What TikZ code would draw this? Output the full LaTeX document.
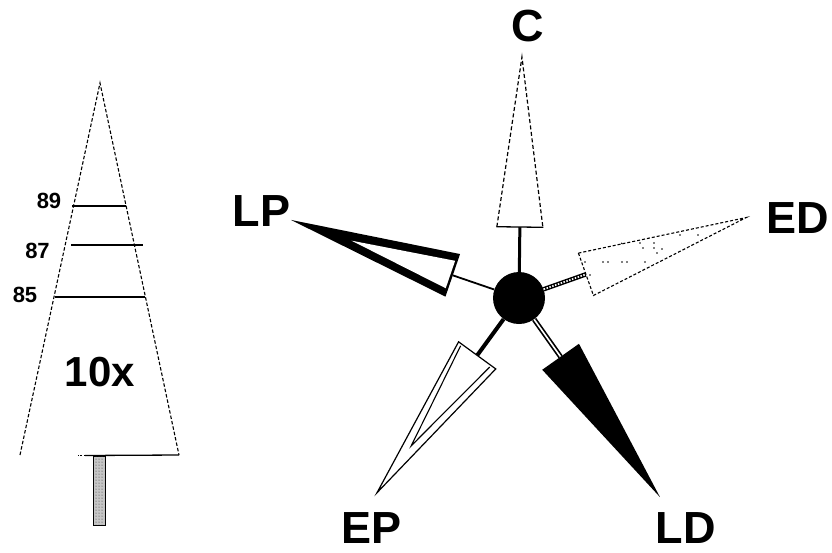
\documentclass[tikz,border=0pt]{standalone}
\usepackage{fontspec}
\setmainfont{Liberation Sans}
\usetikzlibrary{patterns}

\begin{document}
\begin{tikzpicture}[x=1pt,y=1pt,
  armlabel/.style={font=\fontsize{45}{45}\selectfont\bfseries, inner sep=0pt},
  yearlabel/.style={font=\fontsize{22}{22}\selectfont\bfseries, inner sep=0pt},
  treeside/.style={line width=1.1pt, dash pattern=on 3.5pt off 2pt},
  coneedge/.style={line width=1.2pt, dash pattern=on 4pt off 2.5pt},
  fineedge/.style={line width=1.1pt, dash pattern=on 3pt off 2pt},
  yearline/.style={line width=1.5pt},
  hubnode/.style={circle, fill=black, minimum size=52pt, inner sep=0pt},
]
\useasboundingbox (0,0) rectangle (832,-552);

% ---------- the tree ----------
\coordinate (apex) at (100,-83);
\coordinate (tl) at (20,-455);
\coordinate (tr) at (179,-455);
\draw[treeside] (tl) -- (apex) -- (tr);
\draw[line width=1.3pt] (tr) -- (85,-455.5);
\draw[line width=1.3pt, dotted] (85,-455.5) -- (78,-455.5);
\node[draw=black, line width=1pt, fill=gray!45,
      minimum width=12pt, minimum height=69pt, inner sep=0pt] (trunk) at (99,-490.5) {};
\fill[pattern=dots, pattern color=black!80] (93.5,-456.5) rectangle (104.5,-524.5);

\draw[yearline] (72,-206) -- (126,-206);
\draw[yearline] (71,-245) -- (143,-245);
\draw[yearline] (55,-297) -- (145,-297);
\node[yearlabel] (y89) at (49,-200.5) {89};
\node[yearlabel] (y87) at (37.5,-250.5) {87};
\node[yearlabel] (y85) at (25,-295) {85};
\node[font=\fontsize{42}{42}\selectfont\bfseries, inner sep=0pt] (ten) at (100,-372.5) {10x};

% ---------- the star ----------
\node[hubnode] (hub) at (519,-298) {};

% base mid points of the five arms
\begin{scope}[shift={(519,-298)}]
  \coordinate (Cb)  at (89.3:71);
  \coordinate (EDb) at (19.5:71);
  \coordinate (LPb) at (161.1:70);
  \coordinate (EPb) at (233.9:71);
  \coordinate (LDb) at (305.3:72);
\end{scope}

% spokes
\draw[line width=3pt] (hub) -- (Cb);
\draw[line width=1.8pt] (hub) -- (LPb);
\draw[line width=4pt] (hub) -- (EPb);
\draw[line width=5pt] (hub) -- (LDb);
\draw[line width=1.6pt, white] (hub) -- (LDb);
\draw[line width=4.5pt] (hub) -- (EDb);
\draw[line width=1.6pt, white, dash pattern=on 1.5pt off 1.5pt] (hub) -- (EDb);

% C: dashed cone, solid base
\begin{scope}[shift={(519,-298)}, rotate=89.3]
  \fill[white] (71,23) -- (241,0) -- (71,-23) -- cycle;
  \draw[coneedge] (71,23) -- (241,0) -- (71,-23);
  \draw[line width=1.3pt] (71,23.5) -- (71,-23.5);
\end{scope}

% ED: dashed, lightly stippled cone
\begin{scope}[shift={(519,-298)}, rotate=19.5]
  \fill[white] (71,22.5) -- (241,0) -- (71,-22.5) -- cycle;
  \draw[fineedge] (71,22.5) -- (241,0) -- (71,-22.5) -- cycle;
\end{scope}
\foreach \px/\py in {621.7/243.3, 640/243, 643/248, 654/243, 654/248, 657/253,
                     662/249, 680/235, 698/235, 603/262, 608/262, 622/262,
                     627/262, 645/262, 585/262, 590/275}
  \fill (\px,-\py) circle (0.8pt);

% LP: thick-walled black cone
\begin{scope}[shift={(519,-298)}, rotate=161.1]
  \fill[black] (70,22.5) -- (241,0) -- (70,-22.5) -- cycle;
  \fill[white] (72.5,14.5) -- (177,0) -- (72.5,-14.5) -- cycle;
\end{scope}

% EP: cone drawn with a double outline
\begin{scope}[shift={(519,-298)}, rotate=233.9]
  \filldraw[fill=white, line width=1.2pt] (71,23) -- (241,0) -- (71,-23) -- cycle;
  \draw[line width=1.1pt] (73,17) -- (183,0) -- (73,-19);
\end{scope}

% LD: solid black cone
\begin{scope}[shift={(519,-298)}, rotate=305.3]
  \fill[black] (72,22.5) -- (244,0) -- (72,-22.5) -- cycle;
\end{scope}

% arm labels
\node[armlabel] (C)  at (527.5,-26.5) {C};
\node[armlabel] (LP) at (261.5,-211.5) {LP};
\node[armlabel] (ED) at (798,-218.5) {ED};
\node[armlabel] (EP) at (371.5,-528) {EP};
\node[armlabel] (LD) at (685.5,-528.5) {LD};
\end{tikzpicture}
\end{document}
